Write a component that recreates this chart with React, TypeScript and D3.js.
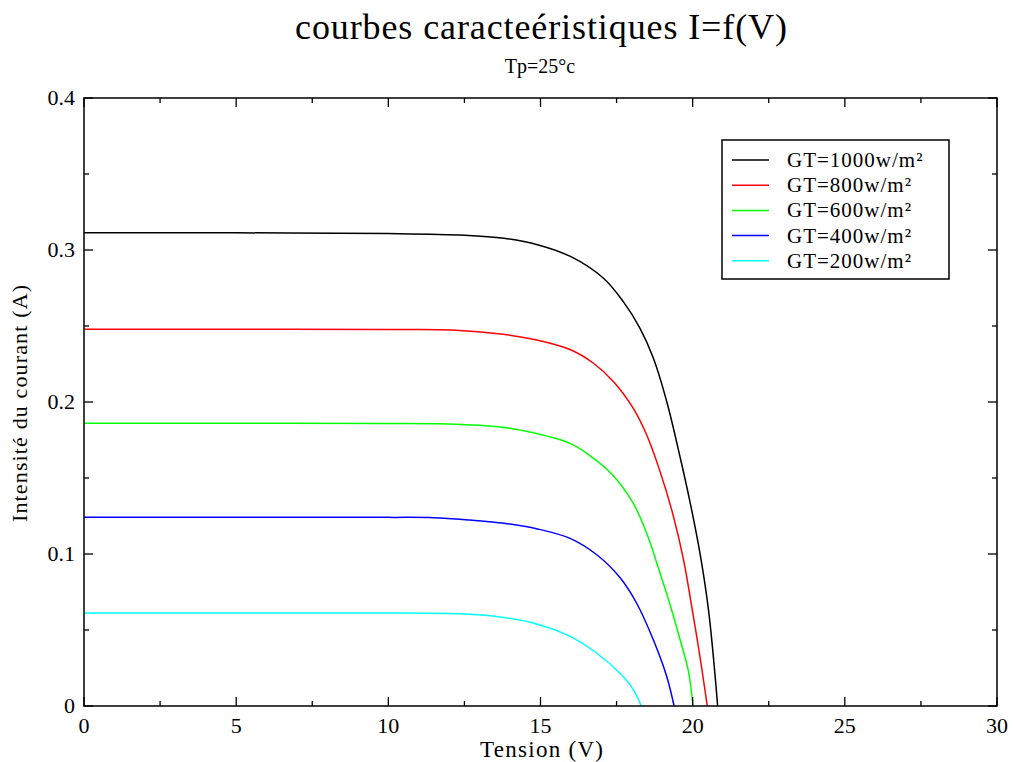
import React from "react";
import * as d3 from "d3";

const seriesNames = ["GT=1000w/m²", "GT=800w/m²", "GT=600w/m²", "GT=400w/m²", "GT=200w/m²"];
const seriesColors = ["#000000", "#ff0000", "#00ff00", "#0000ff", "#00ffff"];

const curve1000: [number, number][] = [
  [0, 0.3114], [5, 0.3113], [10, 0.3108], [12.5, 0.3097], [13.8, 0.3077], [14.9, 0.3035],
  [16, 0.2956], [17.07, 0.2814], [17.72, 0.266], [18.27, 0.2485], [18.71, 0.2288],
  [19.15, 0.2002], [19.59, 0.1635], [19.91, 0.1345], [20.24, 0.1005], [20.52, 0.0632],
  [20.73, 0.0215], [20.82, 0],
];
const curve800: [number, number][] = [
  [0, 0.2478], [5, 0.2478], [10, 0.2477], [12.1, 0.2474], [13.78, 0.2445], [14.88, 0.2408],
  [15.97, 0.2345], [16.74, 0.2255], [17.4, 0.2134], [18.05, 0.1958], [18.49, 0.1783],
  [18.93, 0.1542], [19.37, 0.1246], [19.7, 0.0961], [19.97, 0.0653],
  [20.24, 0.0324], [20.48, 0],
];
const curve600: [number, number][] = [
  [0, 0.186], [5, 0.186], [10, 0.1859], [11.9, 0.1856], [13.67, 0.1836], [14.8, 0.1796],
  [15.97, 0.1728], [16.52, 0.1662], [17.37, 0.152], [18.05, 0.1333], [18.49, 0.1136],
  [18.93, 0.0873], [19.26, 0.0665], [19.59, 0.0434], [19.86, 0.023], [20.01, 0],
];
const curve400: [number, number][] = [
  [0, 0.1241], [5, 0.1241], [10, 0.1241], [11.5, 0.1239], [12.68, 0.1223], [13.8, 0.1202],
  [14.9, 0.1165], [15.97, 0.1103], [16.85, 0.0995], [17.61, 0.0845], [18.16, 0.0676],
  [18.71, 0.0434], [19.15, 0.0193], [19.39, 0],
];
const curve200: [number, number][] = [
  [0, 0.0612], [5, 0.0612], [10, 0.0612], [12.5, 0.0605], [13.67, 0.0586], [14.9, 0.0538],
  [15.97, 0.0458], [16.85, 0.0347], [17.61, 0.0215], [18.05, 0.0108], [18.31, 0],
];
const allCurves = [curve1000, curve800, curve600, curve400, curve200];

const xMajorTicks = [0, 5, 10, 15, 20, 25, 30];
const xMinorTicks = [2.5, 7.5, 12.5, 17.5, 22.5, 27.5];
const yMajorTicks = [0, 0.1, 0.2, 0.3, 0.4];
const yMinorTicks = [0.05, 0.15, 0.25, 0.35];

const titleText = "courbes caracteéristiques I=f(V)";
const subtitleText = "Tp=25°c";
const xLabel = "Tension (V)";
const yLabel = "Intensité du courant  (A)";

export default function App() {
  const W = 1013, H = 762;
  const L = 84, R = 997, T = 98, B = 706;
  const x = d3.scaleLinear().domain([0, 30]).range([L, R]);
  const y = d3.scaleLinear().domain([0, 0.4]).range([B, T]);
  const line = d3
    .line<[number, number]>()
    .x((d) => x(d[0]))
    .y((d) => y(d[1]))
    .curve(d3.curveCatmullRom.alpha(0.5));
  const font = "'Liberation Serif', 'Times New Roman', serif";
  const major = 9, minor = 5;
  const fmtY = (v: number) => (v === 0 ? "0" : d3.format(".1f")(v));

  return (
    <svg width={W} height={H} style={{ position: "absolute", left: 0, top: 0, background: "#fff" }} fontFamily={font}>
      <rect x={0} y={0} width={W} height={H} fill="#fff" />
      {allCurves.map((c, i) => (
        <path key={i} d={line(c) || ""} fill="none" stroke={seriesColors[i]} strokeWidth={1.5} />
      ))}
      <rect x={L} y={T} width={R - L} height={B - T} fill="none" stroke="#000" strokeWidth={1.5} />
      {xMajorTicks.map((t) => (
        <g key={"xM" + t}>
          <line x1={x(t)} x2={x(t)} y1={B} y2={B - major} stroke="#000" strokeWidth={1.3} />
          <line x1={x(t)} x2={x(t)} y1={T} y2={T + major} stroke="#000" strokeWidth={1.3} />
          <text x={x(t)} y={733} textAnchor="middle" fontSize={22} fill="#000">{t}</text>
        </g>
      ))}
      {xMinorTicks.map((t) => (
        <g key={"xm" + t}>
          <line x1={x(t)} x2={x(t)} y1={B} y2={B - minor} stroke="#000" strokeWidth={1.3} />
          <line x1={x(t)} x2={x(t)} y1={T} y2={T + minor} stroke="#000" strokeWidth={1.3} />
        </g>
      ))}
      {yMajorTicks.map((t) => (
        <g key={"yM" + t}>
          <line x1={L} x2={L + major} y1={y(t)} y2={y(t)} stroke="#000" strokeWidth={1.3} />
          <line x1={R} x2={R - major} y1={y(t)} y2={y(t)} stroke="#000" strokeWidth={1.3} />
          <text x={75} y={y(t) + 7} textAnchor="end" fontSize={22} fill="#000">{fmtY(t)}</text>
        </g>
      ))}
      {yMinorTicks.map((t) => (
        <g key={"ym" + t}>
          <line x1={L} x2={L + minor} y1={y(t)} y2={y(t)} stroke="#000" strokeWidth={1.3} />
          <line x1={R} x2={R - minor} y1={y(t)} y2={y(t)} stroke="#000" strokeWidth={1.3} />
        </g>
      ))}
      <text x={295} y={39} fontSize={36} fill="#000" textLength={492} lengthAdjust="spacing">{titleText}</text>
      <text x={540} y={73} fontSize={20} fill="#000" textAnchor="middle">{subtitleText}</text>
      <text x={480} y={757} fontSize={23} fill="#000" textLength={123} lengthAdjust="spacing">{xLabel}</text>
      <text transform={`translate(27, 522) rotate(-90)`} fontSize={22} fill="#000" textLength={237} lengthAdjust="spacing">{yLabel}</text>
      <rect x={722} y={140} width={227} height={139} fill="#fff" stroke="#000" strokeWidth={1.5} />
      {seriesNames.map((n, i) => {
        const yy = 160 + i * 25.2;
        return (
          <g key={n}>
            <line x1={732} x2={769} y1={yy} y2={yy} stroke={seriesColors[i]} strokeWidth={1.5} />
            <text x={787} y={yy + 7} fontSize={21} fill="#000" letterSpacing={1}>{n}</text>
          </g>
        );
      })}
    </svg>
  );
}
